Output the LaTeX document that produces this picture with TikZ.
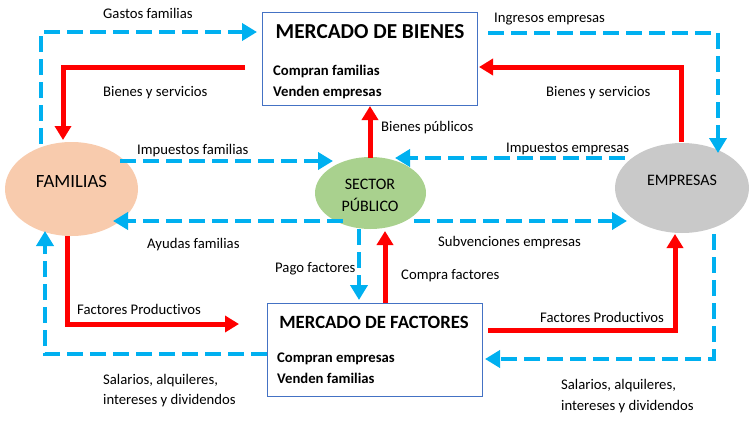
\documentclass[tikz,border=0pt]{standalone}
\usepackage{fontspec}
\setmainfont{Carlito}[Ligatures=NoCommon,RawFeature={-calt;-clig}]
\usetikzlibrary{arrows.meta,shapes.geometric}
\definecolor{flowblue}{HTML}{00B0F0}
\definecolor{flowred}{HTML}{FF0000}
\definecolor{boxline}{HTML}{4472C4}
\definecolor{famfill}{HTML}{F8CBAD}
\definecolor{secfill}{HTML}{A9D18E}
\definecolor{empfill}{HTML}{C9C9C9}
\begin{document}
\begin{tikzpicture}[x=1pt,y=-1pt,
 lbl/.style={anchor=base west,inner sep=0pt,font=\fontsize{14.7}{18}\selectfont},
 boxtxt/.style={anchor=base west,inner sep=0pt,font=\bfseries\fontsize{14.7}{18}\selectfont},
 boxtitle/.style={anchor=base,inner sep=0pt,font=\bfseries\fontsize{21.3}{24}\selectfont},
 money/.style={draw=flowblue,line width=4.3pt,dash pattern=on 16pt off 7pt,line join=miter,-{Triangle[length=15pt,width=17pt]}},
 goods/.style={draw=flowred,line width=5pt,line join=miter,-{Triangle[length=14pt,width=16pt]}},
 market/.style={draw=boxline,line width=1pt,fill=white,rectangle,inner sep=0pt},
 agent/.style={ellipse,inner sep=0pt}]
\useasboundingbox (0,0) rectangle (755,431);
% markets
\node[market,minimum width=215pt,minimum height=93pt] (mb) at (369.5,58.5) {};
\node[boxtitle] (mbt) at (370,38) {MERCADO DE BIENES};
\node[boxtxt] (mb1) at (273,75) {Compran familias};
\node[boxtxt] (mb2) at (273,96) {Venden empresas};
\node[market,minimum width=215pt,minimum height=93pt] (mf) at (374.5,349.5) {};
\node[boxtitle,font=\bfseries\fontsize{18.7}{22}\selectfont] (mft) at (374,328) {MERCADO DE FACTORES};
\node[boxtxt] (mf1) at (277,362) {Compran empresas};
\node[boxtxt] (mf2) at (277,383) {Venden familias};
% agents
\node[agent,fill=famfill,minimum width=133pt,minimum height=94pt] (fam) at (71.5,189) {};
\node[inner sep=0pt,anchor=base,font=\fontsize{18.7}{22}\selectfont] (famt) at (71.5,187) {FAMILIAS};
\node[agent,fill=secfill,minimum width=111pt,minimum height=72pt] (sp) at (370.5,193) {};
\node[inner sep=0pt,anchor=base,font=\fontsize{16}{22}\selectfont] (spt1) at (370,189) {SECTOR};
\node[inner sep=0pt,anchor=base,font=\fontsize{16}{22}\selectfont] (spt2) at (370,211) {PÚBLICO};
\node[agent,fill=empfill,minimum width=134pt,minimum height=90pt] (emp) at (682,188) {};
\node[inner sep=0pt,anchor=base,font=\fontsize{16}{22}\selectfont] (empt) at (682,185) {EMPRESAS};
% free ends and bends
\coordinate (g0) at (41,144); \coordinate (g1) at (257,32);
\coordinate (b0) at (245,67); \coordinate (b1) at (63,140);
\coordinate (i0) at (488,33); \coordinate (i1) at (718,153);
\coordinate (r0) at (681,142); \coordinate (r1) at (479,67);
\coordinate (p0) at (370,158); \coordinate (p1) at (370,106);
\coordinate (if0) at (120,161); \coordinate (if1) at (333,161);
\coordinate (af0) at (343,221); \coordinate (af1) at (113,221);
\coordinate (ie0) at (625,158); \coordinate (ie1) at (395,158);
\coordinate (se0) at (414,221); \coordinate (se1) at (627,221);
\coordinate (pf0) at (359,229); \coordinate (pf1) at (359,300);
\coordinate (cf0) at (385,303); \coordinate (cf1) at (385,231);
\coordinate (fl0) at (67,236); \coordinate (fl1) at (239,324);
\coordinate (sl0) at (267,354); \coordinate (sl1) at (45,231);
\coordinate (fr0) at (488,330); \coordinate (fr1) at (675,234);
\coordinate (sr0) at (714,234); \coordinate (sr1) at (485,359);
% flows
\draw[money] (g0) |- (g1);
\draw[goods] (b0) -| (b1);
\draw[money] (i0) -| (i1);
\draw[goods] (r0) |- (r1);
\draw[goods] (p0) -- (p1);
\draw[money] (if0) -- (if1);
\draw[money] (af0) -- (af1);
\draw[money] (ie0) -- (ie1);
\draw[money] (se0) -- (se1);
\draw[money] (pf0) -- (pf1);
\draw[goods] (cf0) -- (cf1);
\draw[goods] (fl0) |- (fl1);
\draw[money] (sl0) -| (sl1);
\draw[goods] (fr0) -| (fr1);
\draw[money] (sr0) |- (sr1);
% labels
\node[lbl] (l1) at (103,18) {Gastos familias};
\node[lbl] (l2) at (103,96) {Bienes y servicios};
\node[lbl] (l3) at (494,22) {Ingresos empresas};
\node[lbl] (l4) at (546,96) {Bienes y servicios};
\node[lbl] (l5) at (381,131) {Bienes públicos};
\node[lbl] (l6) at (137,154) {Impuestos familias};
\node[lbl] (l7) at (147,248) {Ayudas familias};
\node[lbl] (l8) at (506,152) {Impuestos empresas};
\node[lbl] (l9) at (438,246) {Subvenciones empresas};
\node[lbl] (l10) at (275,272) {Pago factores};
\node[lbl] (l11) at (401,279) {Compra factores};
\node[lbl] (l12) at (77,314) {Factores Productivos};
\node[lbl] (l13) at (540,322) {Factores Productivos};
\node[lbl] (l14) at (103,384) {Salarios, alquileres,};
\node[lbl] (l15) at (103,404) {intereses y dividendos};
\node[lbl] (l16) at (561,389) {Salarios, alquileres,};
\node[lbl] (l17) at (561,410) {intereses y dividendos};
\end{tikzpicture}
\end{document}
